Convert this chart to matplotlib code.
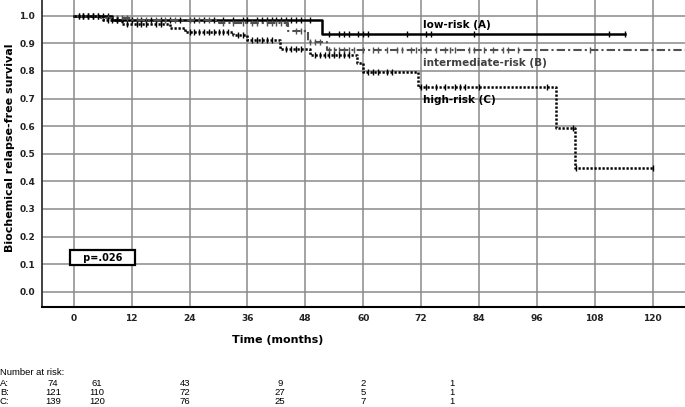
import matplotlib
matplotlib.use("Agg")
import matplotlib.pyplot as plt

# Kaplan-Meier step curves (time in months, survival)
low_t = [0, 8, 51.5, 114.3]
low_s = [1.0, 0.985, 0.935, 0.935]
low_cens = [2, 3, 4, 5, 6, 7, 9, 10, 12, 14, 16, 18, 20, 22, 25, 27, 29, 31, 33, 35,
            36, 38, 39, 40, 41, 42, 43, 44, 45, 46, 47, 49, 53, 55, 56, 57, 59, 60,
            61, 69, 73, 74, 83, 111, 114.3]

int_t = [0, 5, 12, 30, 44.5, 48.5, 52.5, 126.7]
int_s = [1.0, 0.99, 0.985, 0.975, 0.945, 0.905, 0.875, 0.875]
int_cens = [1, 2, 3, 4, 6, 7, 9, 10, 11, 13, 15, 17, 19, 21, 24, 26, 28, 31, 33, 35,
            37, 38, 40, 41, 42, 43, 44, 46, 47, 49, 50, 51, 53, 54, 55, 56, 57, 58,
            60, 62, 63, 65, 67, 68, 70, 71, 72, 73, 75, 77, 78, 79, 82, 83, 85, 87,
            89, 90, 92, 107]

high_t = [0, 6, 10, 20, 23, 33, 36, 42.7, 49, 58.7, 60, 71.3, 100, 103.9, 120]
high_s = [1.0, 0.985, 0.97, 0.955, 0.94, 0.93, 0.912, 0.878, 0.858, 0.828, 0.797,
          0.743, 0.594, 0.448, 0.448]
high_cens = [1, 2, 3, 4, 5, 7, 8, 9, 11, 13, 14, 15, 17, 18, 24, 25, 26, 27, 28, 29,
             30, 31, 32, 34, 35, 37, 38, 39, 40, 41, 44, 45, 46, 47, 50, 51, 52, 53,
             54, 55, 56, 57, 61, 62, 63, 65, 66, 72, 73, 75, 77, 79, 80, 81, 84, 98,
             103.5, 104.2, 120]

xticks = list(range(0, 121, 12))
yticks = [i / 10 for i in range(11)]

risk_labels = ["A:", "B:", "C:"]
risk_A = [74, 61, 43, 9, 2, 1]
risk_B = [121, 110, 72, 27, 5, 1]
risk_C = [139, 120, 76, 25, 7, 1]


def surv_at(t, times, surv):
    val = surv[0]
    for tt, ss in zip(times, surv):
        if t >= tt:
            val = ss
    return val


W, H = 685, 407
fig = plt.figure(figsize=(W / 100, H / 100), dpi=100)
ax = fig.add_axes([42 / W, 1 - 307 / H, (W - 42) / W, 307 / H])

ax.set_xlim(-6.6, 126.7)
ax.set_ylim(-0.055, 1.057)
ax.set_xticks(xticks)
ax.set_yticks(yticks)
ax.set_yticklabels([f"{v:.1f}" for v in yticks])
ax.grid(True, color="#8a8a8a", lw=1.1)
ax.set_axisbelow(True)
for s in ["top", "right"]:
    ax.spines[s].set_visible(False)
ax.spines["left"].set_color("#333333")
ax.spines["left"].set_linewidth(1.3)
ax.spines["bottom"].set_linewidth(1.5)
ax.tick_params(length=0, labelsize=6.5, pad=5)
for lab in ax.get_xticklabels() + ax.get_yticklabels():
    lab.set_fontweight("bold")
    lab.set_color("#222222")

curves = [
    (low_t, low_s, low_cens, dict(color="black", lw=1.8, ls="-")),
    (int_t, int_s, int_cens, dict(color="#505050", lw=1.5, ls=(0, (4, 1.5, 1, 1.5)))),
    (high_t, high_s, high_cens, dict(color="black", lw=1.8, ls=(0, (0.9, 0.7)))),
]
for times, surv, cens, style in curves:
    ax.step(times, surv, where="post", **style)
    cy = [surv_at(c, times, surv) for c in cens]
    ax.plot(cens, cy, ls="none", marker="|", ms=5, mew=1.0, color=style["color"])

ax.text(72.4, 0.966, "low-risk (A)", fontsize=7.5, fontweight="bold", va="center")
ax.text(72.4, 0.829, "intermediate-risk (B)", fontsize=7.5, fontweight="bold",
        va="center", color="#404040")
ax.text(72.4, 0.696, "high-risk (C)", fontsize=7.5, fontweight="bold", va="center")

ax.text(6.0, 0.124, "   p=.026   ", fontsize=7, fontweight="bold", ha="center",
        va="center",
        bbox=dict(boxstyle="square,pad=0.3", fc="white", ec="black", lw=1.6))

fig.text(278 / W, 1 - 340 / H, "Time (months)", fontsize=8, fontweight="bold",
         ha="center", va="center")
fig.text(10 / W, 1 - 148 / H, "Biochemical relapse-free survival", fontsize=8,
         fontweight="bold", rotation=90, ha="center", va="center")

narrow = ["Liberation Sans Narrow", "Liberation Sans", "DejaVu Sans"]
fig.text(0, 1 - 372.5 / H, "Number at risk:", fontsize=6.8, family=narrow,
         va="center")
col_x = [53, 97, 185, 280, 363, 452]
row_y = [383, 392.5, 401.5]
for lab, vals, y in zip(risk_labels, [risk_A, risk_B, risk_C], row_y):
    fig.text(0, 1 - y / H, lab, fontsize=6.8, family=narrow, va="center")
    for x, v in zip(col_x, vals):
        fig.text(x / W, 1 - y / H, str(v), fontsize=6.8, family=narrow,
                 ha="center", va="center")

fig.savefig("out.png", dpi=100)
